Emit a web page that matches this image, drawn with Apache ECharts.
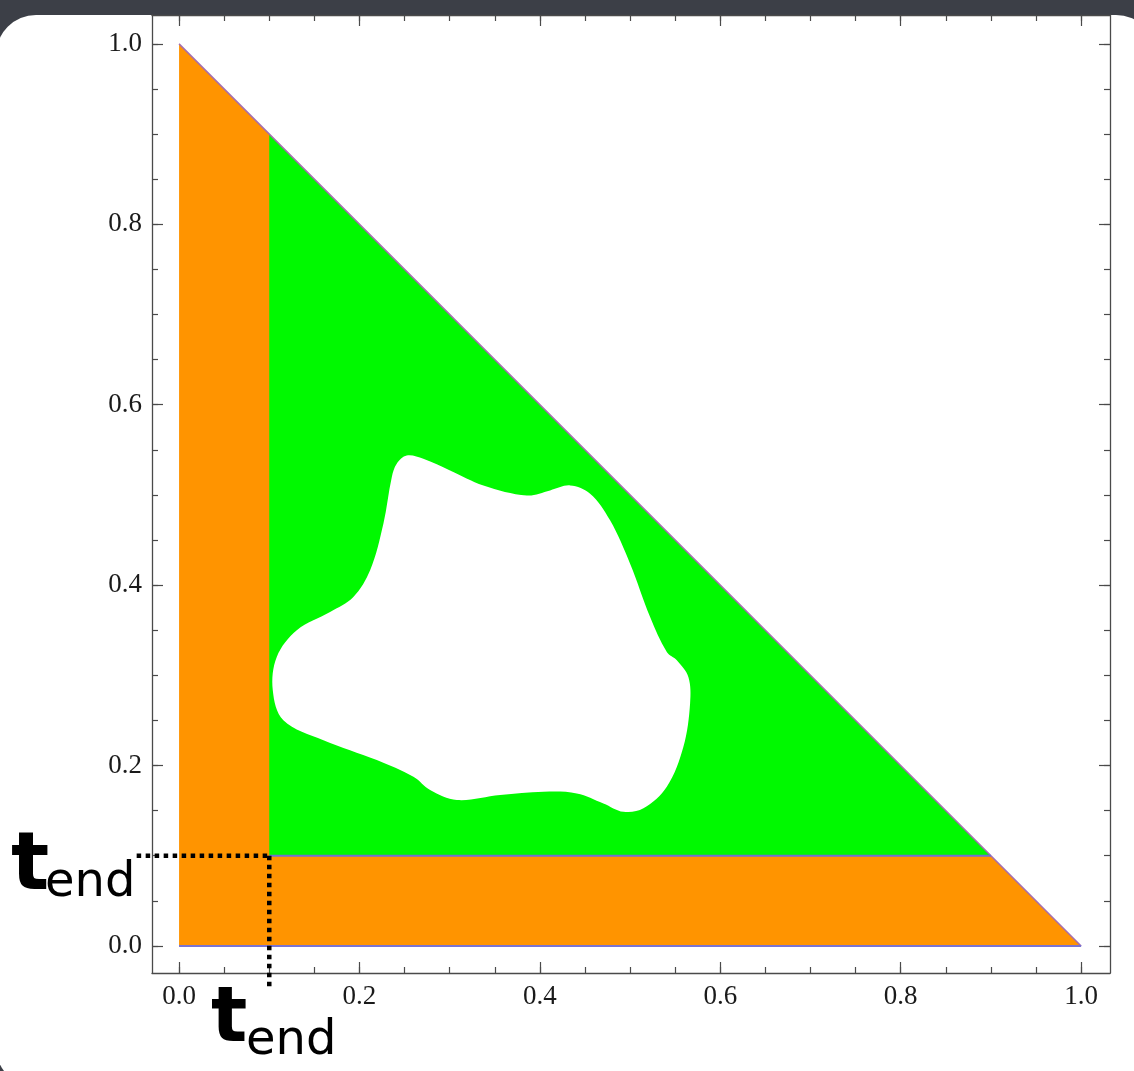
<!DOCTYPE html>
<html>
<head>
<meta charset="utf-8">
<script src="https://cdn.jsdelivr.net/npm/echarts@6/dist/echarts.min.js"></script>
<style>
html,body{margin:0;padding:0;background:#3c3f47;}
#chart{width:1134px;height:1071px;}
</style>
</head>
<body>
<div id="chart"></div>
<script>
// ---- data ----
const majorTicks = [0, 0.2, 0.4, 0.6, 0.8, 1.0];
const minorTicks = [0, 0.05, 0.1, 0.15, 0.2, 0.25, 0.3, 0.35, 0.4, 0.45, 0.5, 0.55, 0.6, 0.65, 0.7, 0.75, 0.8, 0.85, 0.9, 0.95, 1.0];
const tEnd = 0.1;
const outerTriangle = [[0, 0], [1, 0], [0, 1]];
const innerTriangle = [[0.1, 0.1], [0.9, 0.1], [0.1, 0.9]];
const holePoints = [
  [0.2413, 0.5346], [0.2524, 0.5437], [0.2708, 0.5401], [0.3004, 0.5271], [0.3374, 0.5105],
  [0.3855, 0.4994], [0.4113, 0.5050], [0.4335, 0.5105], [0.4557, 0.5013], [0.4778, 0.4718],
  [0.5000, 0.4238], [0.5222, 0.3647], [0.5407, 0.3259], [0.5518, 0.3167], [0.5646, 0.2982],
  [0.5665, 0.2688], [0.5591, 0.2207], [0.5407, 0.1764], [0.5148, 0.1525], [0.4926, 0.1487],
  [0.4704, 0.1580], [0.4409, 0.1691], [0.4039, 0.1709], [0.3559, 0.1672], [0.3079, 0.1617],
  [0.2783, 0.1728], [0.2598, 0.1875], [0.2192, 0.2060], [0.1600, 0.2281], [0.1156, 0.2503],
  [0.1039, 0.2835], [0.1083, 0.3204], [0.1305, 0.3500], [0.1674, 0.3702], [0.1932, 0.3868],
  [0.2118, 0.4164], [0.2265, 0.4681], [0.2358, 0.5197]
];
const hypotenuse = [[0, 1], [1, 0]];
const baseLine = [[0, 0], [1, 0]];
const tEndLine = [[tEnd, tEnd], [0.9, tEnd]];
const dottedH = [[-0.047, tEnd], [tEnd, tEnd]];
const dottedV = [[tEnd, tEnd], [tEnd, -0.047]];
const axisMin = -0.03, axisMax = 1.032;

// ---- chart ----
const chart = echarts.init(document.getElementById('chart'), null, {renderer: 'canvas'});
const frameColor = '#4a4a4a';
const labelFont = {fontFamily: '"Liberation Serif", "DejaVu Serif", serif', fontSize: 27, color: '#1a1a1a'};

function mkAxis(pos, ticks, len, showLabel, showLine) {
  return {
    type: 'value', position: pos, min: axisMin, max: axisMax,
    gridIndex: 0,
    axisLine: {show: showLine, onZero: false, lineStyle: {color: frameColor, width: 1.3}},
    axisTick: {show: true, inside: true, length: len, customValues: ticks, lineStyle: {color: frameColor, width: 1.2}},
    axisLabel: showLabel ? Object.assign({show: true, customValues: majorTicks, margin: 10, formatter: v => v.toFixed(1)}, labelFont) : {show: false},
    splitLine: {show: false}
  };
}

function polySeries(poly, color, smooth) {
  return {
    type: 'custom', coordinateSystem: 'cartesian2d', xAxisIndex: 0, yAxisIndex: 0,
    silent: true, clip: false, data: [0],
    renderItem: (params, api) => ({
      type: 'polygon',
      shape: {points: poly.map(p => api.coord(p)), smooth: smooth || 0},
      style: {fill: color, stroke: null}
    })
  };
}

function pathSeries(data, color, width, dash) {
  return {
    type: 'custom', coordinateSystem: 'cartesian2d', xAxisIndex: 0, yAxisIndex: 0,
    silent: true, clip: false, data: [0], z: 5,
    renderItem: (params, api) => ({
      type: 'polyline',
      shape: {points: data.map(p => api.coord(p))},
      style: {stroke: color, lineWidth: width, lineDash: dash || null, lineCap: 'butt', fill: null}
    })
  };
}

const textStyle = (t, font) => ({text: t, font: font, fill: '#000', align: 'left', verticalAlign: 'bottom', textAlign: 'left', textVerticalAlign: 'bottom'});

const option = {
  animation: false,
  backgroundColor: '#3c3f47',
  grid: {left: 152, top: 15, width: 958, height: 958, containLabel: false},
  xAxis: [
    mkAxis('bottom', majorTicks, 11, true, true),
    mkAxis('bottom', minorTicks, 6, false, false),
    mkAxis('top', majorTicks, 11, false, true),
    mkAxis('top', minorTicks, 6, false, false)
  ],
  yAxis: [
    mkAxis('left', majorTicks, 11, true, true),
    mkAxis('left', minorTicks, 6, false, false),
    mkAxis('right', majorTicks, 11, false, true),
    mkAxis('right', minorTicks, 6, false, false)
  ],
  graphic: [
    {type: 'rect', z: -10, shape: {x: -4, y: 15, width: 1160, height: 1072, r: 40}, style: {fill: '#ffffff'}},
    {type: 'text', z: 100, x: 11, y: 908, style: textStyle('t', 'bold 80px "DejaVu Sans"')},
    {type: 'text', z: 100, x: 45, y: 908, style: textStyle('end', '48px "DejaVu Sans"')},
    {type: 'text', z: 100, x: 211, y: 1059, style: textStyle('t', 'bold 76px "DejaVu Sans"')},
    {type: 'text', z: 100, x: 246, y: 1066, style: textStyle('end', '48px "DejaVu Sans"')}
  ],
  series: [
    polySeries(outerTriangle, '#ff9400', 0),
    polySeries(innerTriangle, '#00f900', 0),
    polySeries(holePoints, '#ffffff', 0.35),
    pathSeries(hypotenuse, '#a46cb0', 1.5),
    pathSeries(baseLine, '#7a74d0', 2),
    pathSeries(tEndLine, '#7070d4', 2),
    pathSeries(dottedH, '#000000', 4.5, [4.5, 4.5]),
    pathSeries(dottedV, '#000000', 4.5, [4.5, 4.5])
  ]
};
chart.setOption(option);
</script>
</body>
</html>
